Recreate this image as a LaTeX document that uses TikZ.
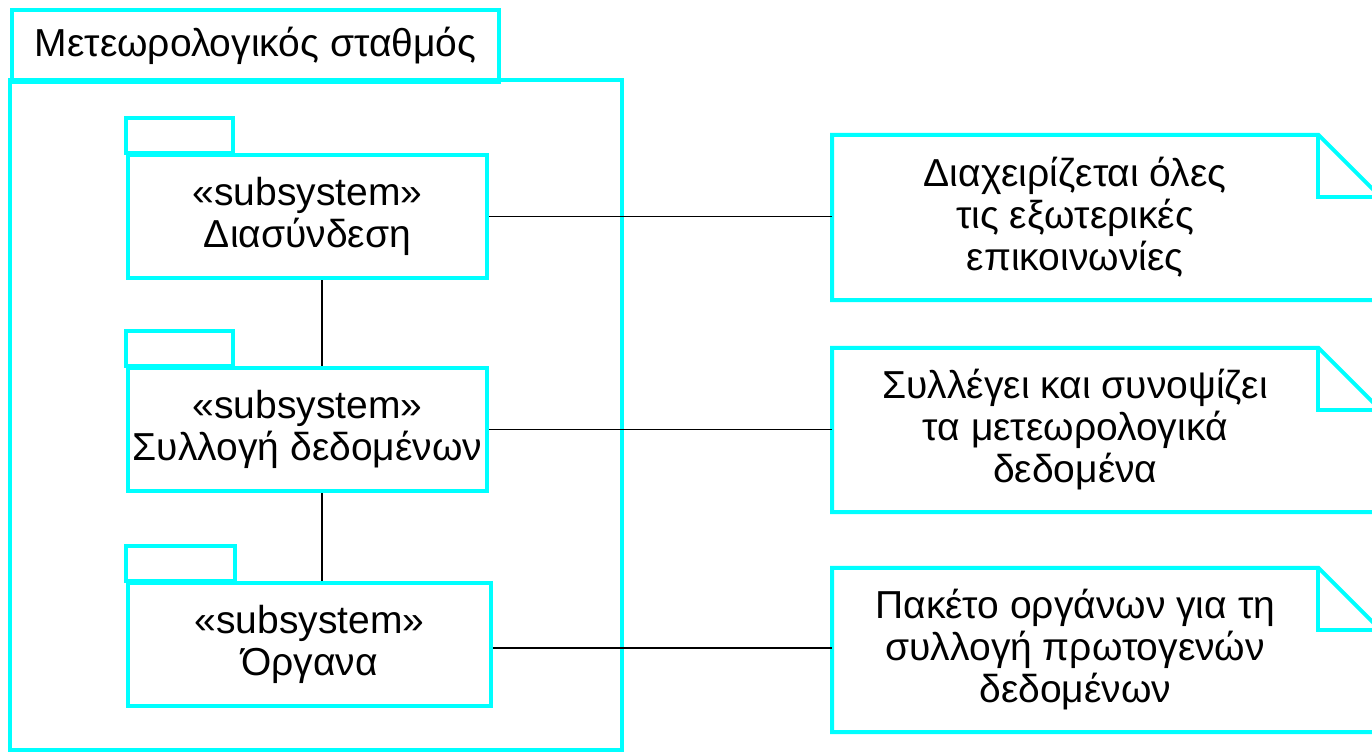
\documentclass[tikz,border=0pt]{standalone}
\usepackage{fontspec}
\setmainfont{Liberation Sans}
\usepackage{tikz}
\usetikzlibrary{positioning}

\definecolor{pkgcyan}{RGB}{0,255,255}
\tikzset{
  pkgline/.style={draw=pkgcyan, line width=4pt},
  pkgbody/.style={pkgline, rectangle, minimum width=359pt, minimum height=123pt, align=center, inner sep=0pt},
  notebox/.style={rectangle, minimum width=486pt, minimum height=165pt, align=center, inner sep=0pt},
  link/.style={draw=black, line width=1.5pt}
}

\begin{document}
\begin{tikzpicture}[x=1pt, y=-1pt, font=\fontsize{39}{42}\selectfont]
                        \useasboundingbox (0,0) rectangle (1372,753);

                        % The station package
                        \node[pkgline, rectangle, minimum width=487pt, minimum height=72pt, anchor=north west, inner sep=0pt] (stationtab) at (10,8) {Μετεωρολογικός σταθμός};
                        \draw[pkgline] (10,80) rectangle (622,750);

                        % Subsystems
                        \node[pkgbody] (iface) at (307.5,216.5) {«subsystem»\\Διασύνδεση};
                        \draw[pkgline] (iface.north west) rectangle ++(107,-35);

                        \node[pkgbody] (collect) at (307.5,429.5) {«subsystem»\\Συλλογή δεδομένων};
                        \draw[pkgline] (collect.north west) rectangle ++(107,-35);

                        \node[pkgbody, minimum width=363pt] (instr) at (309.5,644) {«subsystem»\\Όργανα};
                        \draw[pkgline] (instr.north west) rectangle ++(109,-35);

                        \draw[link] ([xshift=14.5pt]iface.south) -- ([xshift=14.5pt]collect.north);
                        \draw[link] ([xshift=14.5pt]collect.south) -- ([xshift=12.5pt]instr.north);

                        % Notes
                        \node[notebox, anchor=west] (noteiface) at (832,217.5) {Διαχειρίζεται όλες\\τις εξωτερικές\\επικοινωνίες};
                        \node[notebox, anchor=west, minimum height=164pt] (notecollect) at (832,430) {Συλλέγει και συνοψίζει\\τα μετεωρολογικά\\δεδομένα};
                        \node[notebox, anchor=west, minimum height=164pt] (noteinstr) at (832,650) {Πακέτο οργάνων για τη\\συλλογή πρωτογενών\\δεδομένων};

                        \foreach \n in {noteiface,notecollect,noteinstr} {
                            \draw[pkgline] (\n.south west) -- (\n.north west) -- (\n.north east) -- ++(62,62) -- ([xshift=62pt]\n.south east) -- cycle;
                            \draw[pkgline] (\n.north east) -- ++(0,62) -- ++(62,0);
                        }

                        % Links to notes
                        \draw[link] (iface.east) -- (iface.east -| noteiface.west);
                        \draw[link] (collect.east) -- (collect.east -| notecollect.west);
                        \draw[link] ([yshift=-4pt]instr.east) -- ([yshift=-4pt]instr.east -| noteinstr.west);

                    \end{tikzpicture}
\end{document}
